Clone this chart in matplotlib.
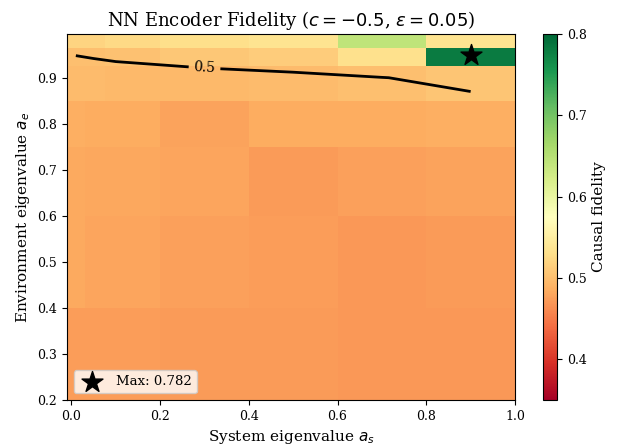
import numpy as np
import matplotlib
matplotlib.use("Agg")
import matplotlib.pyplot as plt

plt.rcParams["font.family"] = "DejaVu Serif"

# grid of system / environment eigenvalues (cell centres)
a_s = [0.01, 0.05, 0.1, 0.3, 0.5, 0.7, 0.9]
a_e = [0.3, 0.5, 0.7, 0.8, 0.9, 0.95, 0.98]

# causal fidelity, one row per a_e value
fid_03 = [0.474, 0.474, 0.474, 0.473, 0.472, 0.470, 0.471]
fid_05 = [0.482, 0.480, 0.479, 0.475, 0.474, 0.471, 0.473]
fid_07 = [0.483, 0.481, 0.481, 0.480, 0.472, 0.476, 0.478]
fid_08 = [0.486, 0.485, 0.485, 0.478, 0.485, 0.485, 0.486]
fid_09 = [0.4965, 0.496, 0.495, 0.495, 0.496, 0.4995, 0.506]
fid_095 = [0.50015, 0.5008, 0.50214, 0.5069, 0.5127, 0.5325, 0.782]
fid_098 = [0.519, 0.520, 0.525, 0.530, 0.535, 0.6425, 0.535]

Z = np.array([fid_03, fid_05, fid_07, fid_08, fid_09, fid_095, fid_098])

fig = plt.figure(figsize=(6.18, 4.47), dpi=100)
ax = fig.add_axes([0.1084, 0.1051, 0.7249, 0.8189])
cax = fig.add_axes([0.8786, 0.1051, 0.0227, 0.8189])

mesh = ax.pcolormesh(a_s, a_e, Z, cmap="RdYlGn", vmin=0.35, vmax=0.8,
                     shading="nearest")
cs = ax.contour(a_s, a_e, Z, levels=[0.5], colors="black", linewidths=2)
ax.clabel(cs, fmt="%.1f", fontsize=10, manual=[(0.3, 0.92)])

i, j = np.unravel_index(np.argmax(Z), Z.shape)
ax.scatter(a_s[j], a_e[i], marker="*", s=250, color="black", zorder=5,
           label="Max: {:.3f}".format(Z[i, j]))
ax.legend(loc="lower left", fontsize=9.5, framealpha=0.8)

ax.set_xlabel("System eigenvalue $a_s$", fontsize=11)
ax.set_ylabel("Environment eigenvalue $a_e$", fontsize=11)
ax.set_title(r"NN Encoder Fidelity ($c = -0.5$, $\varepsilon = 0.05$)", fontsize=13)
ax.tick_params(labelsize=9)

cb = fig.colorbar(mesh, cax=cax)
cb.set_label("Causal fidelity", fontsize=11)
cb.ax.tick_params(labelsize=9)

fig.savefig("out.png", dpi=100)
